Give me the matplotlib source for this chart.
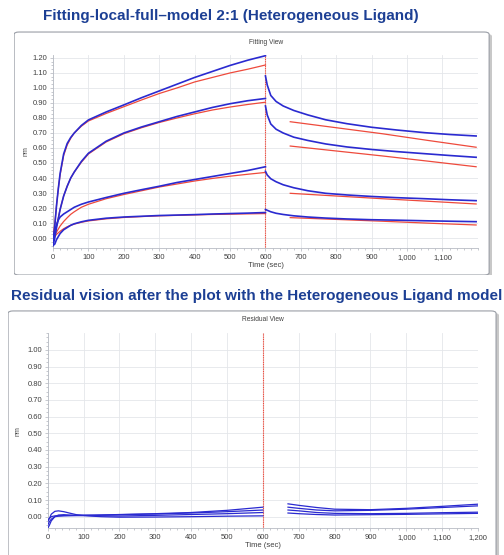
import numpy as np
import matplotlib.pyplot as plt
from matplotlib.patches import FancyBboxPatch
from matplotlib.colors import LinearSegmentedColormap
from matplotlib.ticker import MultipleLocator, FuncFormatter

# association phase (0-600 s)
assoc_t = [0, 5, 10, 15, 20, 30, 40, 50, 60, 80, 100, 150, 200, 250, 300, 350, 400, 450, 500, 550, 600]
meas_assoc = [
    [-0.02, 0.08, 0.22, 0.33, 0.43, 0.56, 0.63, 0.67, 0.70, 0.75, 0.787, 0.84, 0.887, 0.935, 0.98, 1.025, 1.07, 1.11, 1.15, 1.185, 1.215],
    [-0.05, 0.0, 0.07, 0.13, 0.19, 0.28, 0.345, 0.40, 0.44, 0.51, 0.565, 0.645, 0.70, 0.74, 0.775, 0.81, 0.84, 0.87, 0.895, 0.915, 0.93],
    [-0.02, 0.05, 0.09, 0.12, 0.14, 0.16, 0.175, 0.19, 0.205, 0.225, 0.24, 0.27, 0.298, 0.322, 0.345, 0.37, 0.39, 0.41, 0.43, 0.45, 0.475],
    [-0.05, -0.04, -0.01, 0.01, 0.03, 0.055, 0.07, 0.085, 0.095, 0.108, 0.118, 0.132, 0.14, 0.145, 0.15, 0.153, 0.156, 0.16, 0.163, 0.166, 0.17],
]
fit_assoc = [
    [0.0, 0.10, 0.22, 0.33, 0.42, 0.55, 0.62, 0.665, 0.70, 0.745, 0.78, 0.83, 0.875, 0.92, 0.963, 1.0, 1.04, 1.07, 1.10, 1.125, 1.153],
    [0.0, 0.03, 0.08, 0.135, 0.19, 0.28, 0.345, 0.40, 0.44, 0.505, 0.56, 0.64, 0.695, 0.735, 0.77, 0.80, 0.828, 0.853, 0.873, 0.89, 0.905],
    [0.0, 0.02, 0.04, 0.06, 0.08, 0.11, 0.135, 0.158, 0.175, 0.205, 0.225, 0.262, 0.29, 0.315, 0.34, 0.36, 0.38, 0.397, 0.412, 0.425, 0.437],
    [0.0, 0.01, 0.025, 0.035, 0.045, 0.062, 0.075, 0.085, 0.093, 0.105, 0.114, 0.128, 0.137, 0.143, 0.148, 0.151, 0.154, 0.157, 0.159, 0.161, 0.163],
]

# dissociation phase (600-1200 s)
diss_t = [600, 605, 615, 630, 650, 680, 720, 770, 830, 900, 970, 1050, 1120, 1195]
meas_diss = [
    [1.08, 1.02, 0.95, 0.91, 0.88, 0.85, 0.82, 0.788, 0.762, 0.738, 0.72, 0.702, 0.69, 0.68],
    [0.88, 0.82, 0.76, 0.725, 0.70, 0.672, 0.65, 0.627, 0.607, 0.59, 0.576, 0.562, 0.55, 0.538],
    [0.445, 0.42, 0.395, 0.375, 0.355, 0.335, 0.315, 0.298, 0.287, 0.277, 0.269, 0.262, 0.255, 0.249],
    [0.19, 0.185, 0.175, 0.165, 0.157, 0.148, 0.14, 0.133, 0.127, 0.122, 0.119, 0.115, 0.112, 0.109],
]
fit_diss_t = [670, 800, 930, 1060, 1195]
fit_diss = [
    [0.775, 0.735, 0.695, 0.65, 0.605],
    [0.613, 0.58, 0.547, 0.512, 0.475],
    [0.298, 0.28, 0.262, 0.245, 0.227],
    [0.136, 0.124, 0.112, 0.099, 0.087],
]

# residuals
res_assoc_t = [0, 5, 10, 20, 30, 45, 60, 80, 100, 150, 200, 300, 400, 500, 600]
res_assoc = [
    [-0.03, -0.01, 0.015, 0.032, 0.035, 0.03, 0.022, 0.012, 0.008, 0.01, 0.013, 0.018, 0.025, 0.038, 0.057],
    [-0.07, -0.05, -0.025, 0.0, 0.01, 0.012, 0.01, 0.008, 0.008, 0.01, 0.012, 0.016, 0.022, 0.03, 0.04],
    [-0.05, -0.03, -0.015, 0.0, 0.003, 0.005, 0.006, 0.007, 0.008, 0.005, 0.004, 0.008, 0.013, 0.018, 0.025],
    [-0.02, -0.01, 0.0, 0.005, 0.006, 0.007, 0.007, 0.007, 0.006, 0.0, -0.003, -0.002, 0.0, 0.003, 0.005],
]
res_diss_t = [670, 700, 750, 800, 900, 1000, 1100, 1200]
res_diss = [
    [0.077, 0.068, 0.055, 0.045, 0.042, 0.05, 0.062, 0.075],
    [0.057, 0.05, 0.04, 0.035, 0.038, 0.045, 0.055, 0.065],
    [0.04, 0.035, 0.025, 0.02, 0.018, 0.02, 0.024, 0.027],
    [0.022, 0.018, 0.013, 0.01, 0.012, 0.014, 0.017, 0.02],
]

BLUE = '#2a2ad0'
RED = '#ee4a3c'
TITLE_BLUE = '#1c3f94'

plt.rcParams['font.family'] = ['Liberation Sans', 'DejaVu Sans']

fig = plt.figure(figsize=(5.04, 5.55), dpi=100)
fade = LinearSegmentedColormap.from_list('fade', ['white', '#d6e3f3'])


def panel(rect):
    # rounded frame with a light blue fade at the top
    bg = fig.add_axes(rect, zorder=0)
    bg.set_xlim(0, 1)
    bg.set_ylim(0, 1)
    bg.axis('off')
    shadow = FancyBboxPatch((0.006, -0.008), 0.99, 0.995, boxstyle='round,pad=0,rounding_size=0.01',
                            facecolor='#c8c8c8', edgecolor='none', transform=bg.transAxes)
    bg.add_patch(shadow)
    frame = FancyBboxPatch((0.0, 0.0), 0.99, 0.995, boxstyle='round,pad=0,rounding_size=0.01',
                           facecolor='white', edgecolor='#9a9ea6', linewidth=0.8, transform=bg.transAxes)
    bg.add_patch(frame)
    grad = np.linspace(0, 1, 200)
    grad = np.clip((grad - 0.72) / 0.28, 0, 1)[:, None]
    img = bg.imshow(grad, extent=[0, 0.99, 0, 0.995], origin='lower', aspect='auto', cmap=fade)
    img.set_clip_path(frame)


def style(ax, xticks, ylim, ypad):
    ax.set_facecolor('none')
    ax.set_xlim(0, 1200)
    ax.set_ylim(*ylim)
    ax.set_xticks(xticks)
    ax.xaxis.set_minor_locator(MultipleLocator(20))
    ax.yaxis.set_minor_locator(MultipleLocator(0.025))
    ax.xaxis.set_major_formatter(FuncFormatter(lambda v, p: f'{int(v):,}'))
    ax.yaxis.set_major_formatter(FuncFormatter(lambda v, p: f'{v:.2f}'))
    ax.grid(True, color='#e4e6ea', linewidth=0.6)
    ax.set_axisbelow(True)
    for s in ['top', 'right']:
        ax.spines[s].set_visible(False)
    for s in ['left', 'bottom']:
        ax.spines[s].set_color('#b8bcc4')
        ax.spines[s].set_linewidth(0.6)
    ax.tick_params(which='both', labelsize=5.5, colors='#b0b4bc', labelcolor='#404040',
                   length=2, width=0.5, pad=2)
    ax.tick_params(which='minor', length=1.2)
    ax.set_xlabel('Time (sec)', fontsize=5.5, color='#404040', labelpad=1)
    ax.set_ylabel('nm', fontsize=5, color='#404040', labelpad=ypad)
    ax.axvline(600, color=RED, linewidth=0.8, linestyle=(0, (1, 0.6)), zorder=1)


# top: fitting view
panel([0.028, 0.5045, 0.952, 0.44])
fig.text(0.457, 0.972, 'Fitting-local-full\u2013model 2:1 (Heterogeneous Ligand)',
         ha='center', va='center', fontsize=11, fontweight='bold', color=TITLE_BLUE)
fig.text(0.528, 0.924, 'Fitting View', ha='center', va='center', fontsize=4.8, color='#404040')

ax1 = fig.add_axes([0.1052, 0.553, 0.843, 0.348], zorder=1)
style(ax1, range(0, 1101, 100), (-0.067, 1.22), 2)
ax1.set_yticks(np.arange(0, 1.21, 0.1))
for m, f in zip(meas_assoc, fit_assoc):
    ax1.plot(assoc_t, f, color=RED, linewidth=0.9, zorder=3)
    ax1.plot(assoc_t, m, color=BLUE, linewidth=1.2, zorder=4)
for m in meas_diss:
    ax1.plot(diss_t, m, color=BLUE, linewidth=1.2, zorder=4)
for f in fit_diss:
    ax1.plot(fit_diss_t, f, color=RED, linewidth=0.9, zorder=3)

# bottom: residual view
panel([0.016, -0.01, 0.978, 0.452])
fig.text(0.51, 0.467, 'Residual vision after the plot with the Heterogeneous Ligand model',
         ha='center', va='center', fontsize=11, fontweight='bold', color=TITLE_BLUE)
fig.text(0.522, 0.424, 'Residual View', ha='center', va='center', fontsize=4.8, color='#404040')

ax2 = fig.add_axes([0.0946, 0.0486, 0.854, 0.351], zorder=1)
style(ax2, range(0, 1201, 100), (-0.068, 1.10), 4)
ax2.set_yticks(np.arange(0, 1.01, 0.1))
for r in res_assoc:
    ax2.plot(res_assoc_t, r, color=BLUE, linewidth=0.9, zorder=4)
for r in res_diss:
    ax2.plot(res_diss_t, r, color=BLUE, linewidth=0.9, zorder=4)

fig.savefig('out.png', dpi=100)
